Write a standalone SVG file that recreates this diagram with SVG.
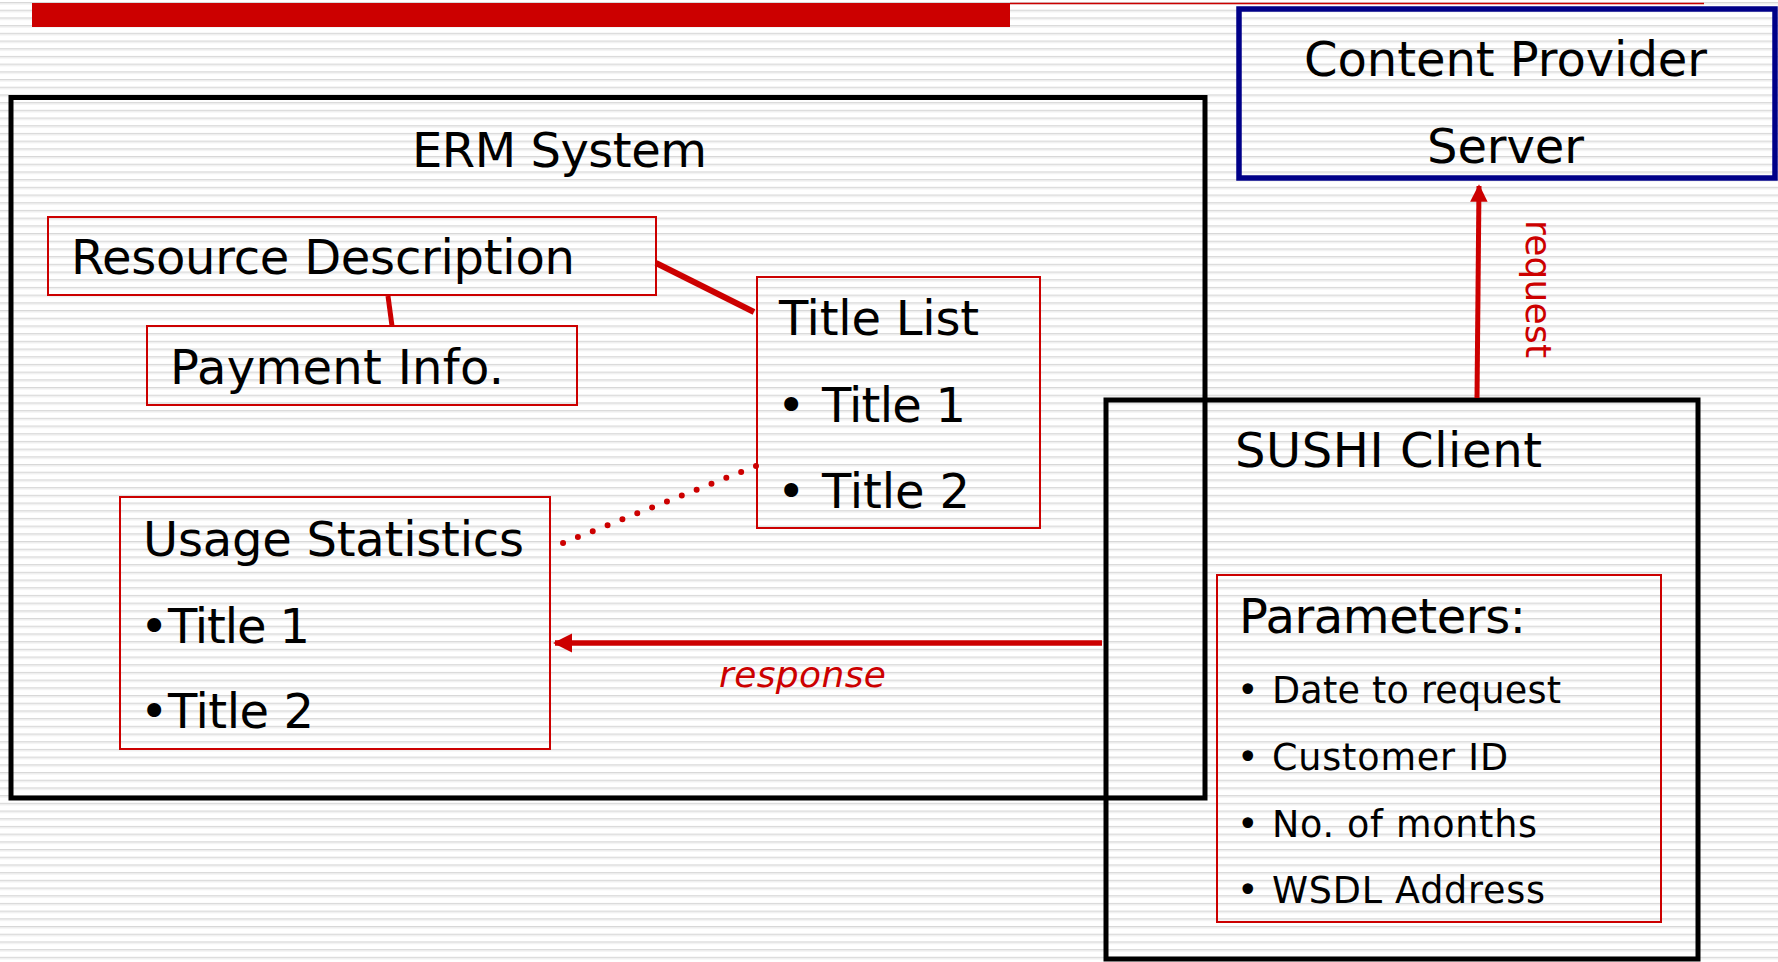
<svg xmlns="http://www.w3.org/2000/svg" width="1778" height="962" viewBox="0 0 1778 962">
<style>
text { font-family: "DejaVu Sans", "Liberation Sans", sans-serif; fill: #000; }
.big { font-size: 48px; }
.mid { font-size: 36.5px; }
.red { fill: none; stroke: #cc0000; stroke-width: 2; }
.blk { fill: none; stroke: #000; stroke-width: 5; }
.conn { stroke: #cc0000; fill: none; }
.lbl { fill: #cc0000; font-size: 36px; }
</style>
<defs>
<pattern id="stripes" patternUnits="userSpaceOnUse" x="0" y="2" width="20" height="7.7">
<rect width="20" height="7.7" fill="#ffffff"/>
<rect y="0" width="20" height="1.2" fill="#d8d8d8"/>
<rect y="1.2" width="20" height="1.2" fill="#ececec"/>
</pattern>
<marker id="arr" viewBox="0 0 10 10" refX="9" refY="5" markerWidth="3.5" markerHeight="3.5" orient="auto" markerUnits="strokeWidth">
<path d="M0,0 L10,5 L0,10 z" fill="#cc0000"/>
</marker>
</defs>
<rect width="1778" height="962" fill="url(#stripes)"/>

<g id="header">
<rect x="32" y="3" width="978" height="24" fill="#cc0000"/>
<line x1="1010" y1="3.5" x2="1704" y2="3.5" stroke="#cc0000" stroke-width="1.5"/>
</g>

<g id="content-provider">
<rect x="1239" y="9" width="536" height="169" fill="none" stroke="#000088" stroke-width="5.5"/>
<text class="big" x="1304" y="76" textLength="403">Content Provider</text>
<text class="big" x="1427" y="163" textLength="157">Server</text>
</g>

<g id="erm-system">
<rect class="blk" x="11" y="97.5" width="1194" height="700.5"/>
<text class="big" x="412" y="167" textLength="295">ERM System</text>
</g>

<g id="sushi-client">
<rect class="blk" x="1106" y="400" width="592" height="559"/>
<text class="big" x="1235" y="467" textLength="307">SUSHI Client</text>
</g>

<g id="resource-description">
<rect class="red" x="48" y="217" width="608" height="78"/>
<text class="big" x="71" y="274" textLength="504">Resource Description</text>
</g>

<g id="payment-info">
<rect class="red" x="147" y="326" width="430" height="79"/>
<text class="big" x="170" y="384" textLength="334">Payment Info.</text>
</g>

<g id="title-list">
<rect class="red" x="757" y="277" width="283" height="251"/>
<text class="big" x="779" y="335" textLength="200">Title List</text>
<text class="big" x="777" y="422">•<tspan x="822" textLength="144">Title 1</tspan></text>
<text class="big" x="777" y="508">•<tspan x="822" textLength="148">Title 2</tspan></text>
</g>

<g id="usage-statistics">
<rect class="red" x="120" y="497" width="430" height="252"/>
<text class="big" x="143" y="556" textLength="381">Usage Statistics</text>
<text class="big" x="140" y="643">•<tspan x="168" textLength="142">Title 1</tspan></text>
<text class="big" x="140" y="728">•<tspan x="168" textLength="146">Title 2</tspan></text>
</g>

<g id="parameters">
<rect class="red" x="1217" y="575" width="444" height="347"/>
<text class="big" x="1239" y="633" textLength="287">Parameters:</text>
<text class="mid" x="1237" y="703">•<tspan x="1272" textLength="289">Date to request</tspan></text>
<text class="mid" x="1237" y="770">•<tspan x="1272" textLength="236">Customer ID</tspan></text>
<text class="mid" x="1237" y="837">•<tspan x="1272" textLength="265">No. of months</tspan></text>
<text class="mid" x="1237" y="903">•<tspan x="1272" textLength="273">WSDL Address</tspan></text>
</g>

<g id="connectors">
<line class="conn" x1="388" y1="296" x2="392" y2="326" stroke-width="5"/>
<line class="conn" x1="656" y1="263" x2="754" y2="312" stroke-width="6"/>
<line class="conn" x1="756" y1="466" x2="563" y2="543" stroke-width="6" stroke-linecap="round" stroke-dasharray="0 15.98"/>
<line class="conn" x1="1477" y1="398" x2="1479" y2="186" stroke-width="5" marker-end="url(#arr)"/>
<line class="conn" x1="1102" y1="643" x2="555" y2="643" stroke-width="5.5" marker-end="url(#arr)"/>
<text class="lbl" transform="translate(1526,220) rotate(90)" x="0" y="0" textLength="138">request</text>
<text class="lbl" x="719" y="687" font-style="italic" textLength="167">response</text>
</g>
</svg>
